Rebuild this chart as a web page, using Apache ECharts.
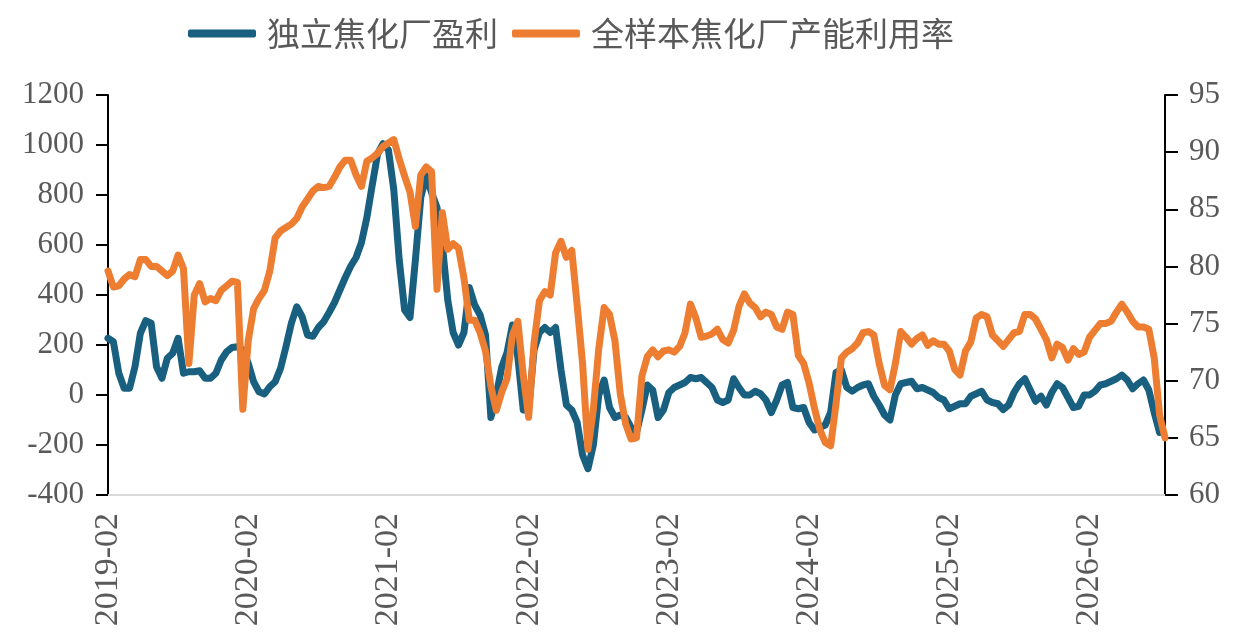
<!DOCTYPE html>
<html>
<head>
<meta charset="utf-8">
<script src="https://cdn.jsdelivr.net/npm/echarts@6/dist/echarts.min.js"></script>
<style>
  html, body { margin: 0; padding: 0; background: #fff; }
  #chart { width: 1234px; height: 639px; }
</style>
</head>
<body>
<div id="chart"></div>
<script>
// 独立焦化厂盈利 (左轴, 元/吨), 双周取值
const profit = [
  227, 213, 87, 27, 27, 113, 247, 297, 287, 113,
  67, 147, 167, 227, 87, 93, 93, 97, 67, 67,
  87, 140, 173, 190, 193, 180, 127, 53, 13, 4,
  33, 53, 107, 193, 287, 353, 313, 240, 235, 270,
  293, 330, 370, 420, 470, 515, 550, 610, 710, 840,
  965, 1005, 980, 820, 540, 340, 310, 540, 790, 875,
  810, 750, 600, 380, 250, 200, 250, 430, 360, 320,
  240, -90, 0, 110, 170, 280, 150, -60, -60, 180,
  250, 270, 250, 270, 100, -40, -60, -110, -240, -295,
  -200, 0, 60, -50, -90, -80, -90, -130, -150, -60,
  40, 20, -90, -60, 10, 30, 40, 50, 70, 65,
  70, 50, 30, -20, -30, -20, 65, 30, 0, 0,
  15, 5, -20, -70, -20, 40, 50, -50, -55, -50,
  -110, -140, -130, -120, -70, 90, 100, 30, 15, 30,
  40, 45, -5, -40, -80, -100, 0, 45, 50, 55,
  25, 30, 20, 10, -10, -20, -55, -45, -35, -35,
  -5, 5, 15, -20, -30, -35, -58, -40, 10, 45,
  65, 20, -25, -5, -40, 10, 45, 30, -10, -50,
  -45, 0, 0, 15, 40, 45, 55, 65, 80, 60,
  25, 45, 60, 20, -70, -150, null
];

// 全样本焦化厂产能利用率 (右轴, %)
const utilization = [
  79.6, 78.2, 78.3, 78.9, 79.3, 79.1, 80.6, 80.6, 80.0, 80.0,
  79.6, 79.2, 79.6, 81.0, 79.8, 71.5, 77.5, 78.5, 76.9, 77.2,
  77.0, 77.9, 78.3, 78.7, 78.6, 67.5, 73.5, 76.3, 77.2, 77.9,
  79.6, 82.5, 83.1, 83.4, 83.7, 84.2, 85.2, 85.9, 86.6, 87.0,
  86.9, 87.0, 87.8, 88.7, 89.3, 89.3, 88.0, 87.0, 89.2, 89.5,
  89.9, 90.5, 90.8, 91.1, 89.4, 87.9, 86.5, 83.5, 88.0, 88.7,
  88.3, 78.0, 84.7, 81.5, 82.0, 81.6, 79.0, 75.3, 75.3, 74.2,
  72.6, 69.5, 67.4, 69.0, 70.2, 74.0, 75.2, 70.5, 66.8, 73.3,
  77.0, 77.8, 77.5, 81.2, 82.2, 80.8, 81.4, 76.6, 71.5, 64.0,
  67.5, 72.8, 76.4, 75.8, 73.5, 68.8, 66.2, 64.9, 65.0, 70.4,
  72.1, 72.7, 72.1, 72.6, 72.7, 72.5, 73.0, 74.2, 76.7, 75.5,
  73.8, 73.9, 74.1, 74.5, 73.6, 73.3, 74.4, 76.5, 77.6, 76.8,
  76.4, 75.6, 76.0, 75.8, 74.7, 74.5, 76.0, 75.8, 72.2, 71.5,
  69.8, 67.6, 65.7, 64.6, 64.3, 68.0, 72.0, 72.5, 72.8, 73.3,
  74.2, 74.3, 74.0, 71.5, 69.6, 69.2, 71.5, 74.3, 73.8, 73.2,
  73.7, 74.0, 73.1, 73.5, 73.2, 73.2, 72.6, 71.0, 70.5, 72.6,
  73.4, 75.5, 75.8, 75.6, 74.0, 73.5, 73.0, 73.6, 74.2, 74.3,
  75.8, 75.8, 75.4, 74.5, 73.6, 72.0, 73.2, 72.9, 71.8, 72.8,
  72.3, 72.5, 73.8, 74.4, 75.0, 75.0, 75.2, 76.0, 76.7, 76.0,
  75.2, 74.7, 74.7, 74.5, 72.0, 67.0, 65.0
];

// 双周日期, 从 2019-02 开始
const dates = [];
const start = Date.UTC(2019, 1, 10);
for (let i = 0; i < profit.length; i++) {
  const d = new Date(start + i * 14 * 86400000);
  dates.push(d.getUTCFullYear() + '-' + String(d.getUTCMonth() + 1).padStart(2, '0'));
}

const labelFont = 'Liberation Serif';
const grey = '#595959';

var myChart = echarts.init(document.getElementById('chart'));

var option = {
  animation: false,
  backgroundColor: '#fff',
  legend: {
    top: 12,
    left: 183,
    itemWidth: 68,
    itemHeight: 8,
    itemGap: 14,
    icon: 'roundRect',
    textStyle: {
      fontFamily: 'Noto Sans CJK SC',
      fontSize: 33,
      color: grey,
      padding: [0, 0, 0, 6]
    },
    data: ['独立焦化厂盈利', '全样本焦化厂产能利用率']
  },
  grid: {
    left: 108,
    right: 69,
    top: 95,
    bottom: 144
  },
  xAxis: {
    type: 'category',
    boundaryGap: false,
    data: dates,
    axisLine: { onZero: false, lineStyle: { color: '#d9d9d9', width: 2 } },
    axisTick: { show: false },
    axisLabel: {
      rotate: 90,
      margin: 18,
      interval: function (index) { return index % 26 === 0; },
      fontFamily: labelFont,
      fontSize: 34,
      color: grey
    },
    splitLine: { show: false }
  },
  yAxis: [
    {
      type: 'value',
      min: -400,
      max: 1200,
      interval: 200,
      axisLine: { show: true, lineStyle: { color: '#000', width: 2 } },
      axisTick: { show: true, length: 12, lineStyle: { color: '#000', width: 2 } },
      axisLabel: {
        margin: 24,
        fontFamily: labelFont,
        fontSize: 31,
        color: grey,
        formatter: function (v) { return String(v); }
      },
      splitLine: { show: false }
    },
    {
      type: 'value',
      min: 60,
      max: 95,
      interval: 5,
      position: 'right',
      axisLine: { show: true, lineStyle: { color: '#000', width: 2 } },
      axisTick: { show: true, length: 13, lineStyle: { color: '#000', width: 2 } },
      axisLabel: { margin: 24, fontFamily: labelFont, fontSize: 31, color: grey },
      splitLine: { show: false }
    }
  ],
  series: [
    {
      name: '独立焦化厂盈利',
      type: 'line',
      yAxisIndex: 0,
      data: profit,
      showSymbol: false,
      connectNulls: false,
      itemStyle: { color: '#185f80' },
      lineStyle: { width: 7, color: '#185f80', join: 'round', cap: 'round' }
    },
    {
      name: '全样本焦化厂产能利用率',
      type: 'line',
      yAxisIndex: 1,
      data: utilization,
      showSymbol: false,
      itemStyle: { color: '#ed7d31' },
      lineStyle: { width: 7, color: '#ed7d31', join: 'round', cap: 'round' }
    }
  ]
};

option && myChart.setOption(option);
</script>
</body>
</html>
